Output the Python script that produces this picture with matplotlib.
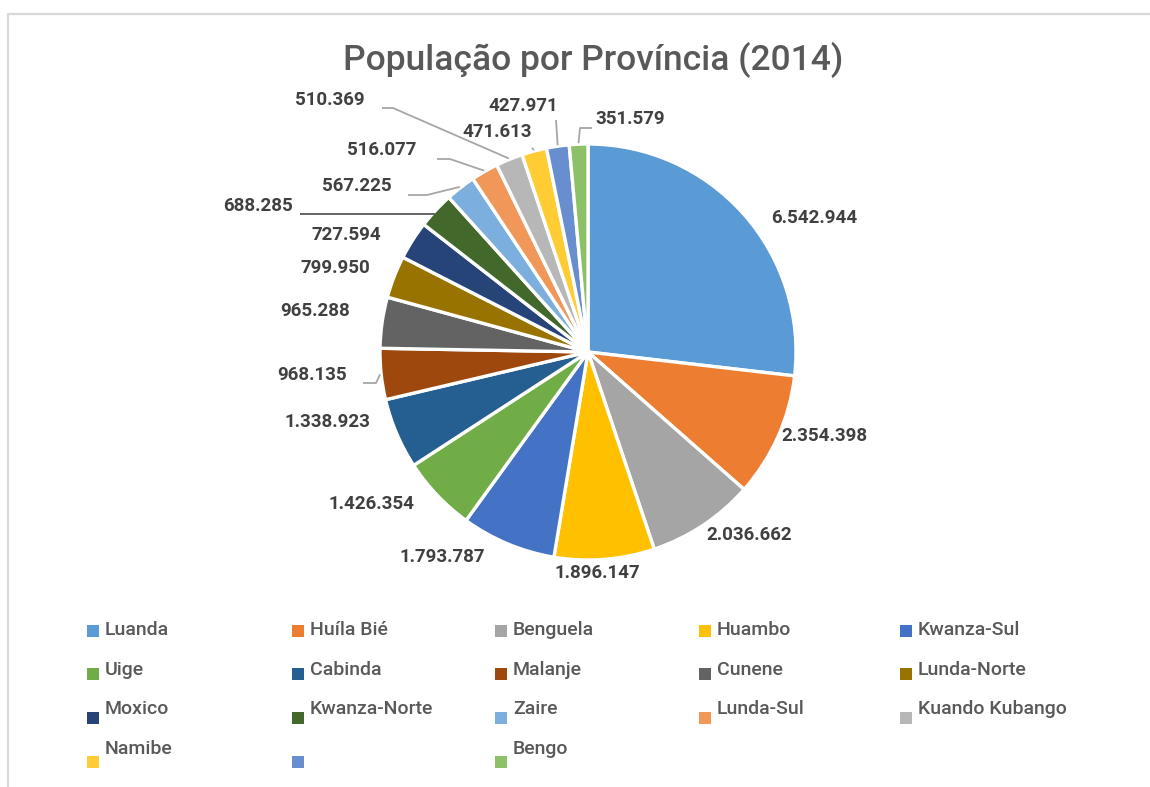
import matplotlib
matplotlib.use("Agg")
import matplotlib.pyplot as plt
from matplotlib.patches import Rectangle
import numpy as np

# ---------------- data ----------------
provinces = ["Luanda", "Huíla Bié", "Benguela", "Huambo", "Kwanza-Sul",
             "Uige", "Cabinda", "Malanje", "Cunene", "Lunda-Norte",
             "Moxico", "Kwanza-Norte", "Zaire", "Lunda-Sul", "Kuando Kubango",
             "Namibe", "", "Bengo"]
population = [6542944, 2354398, 2036662, 1896147, 1793787,
              1426354, 1338923, 968135, 965288, 799950,
              727594, 688285, 567225, 516077, 510369,
              471613, 427971, 351579]
value_labels = ["6.542.944", "2.354.398", "2.036.662", "1.896.147", "1.793.787",
                "1.426.354", "1.338.923", "968.135", "965.288", "799.950",
                "727.594", "688.285", "567.225", "516.077", "510.369",
                "471.613", "427.971", "351.579"]
title = "População por Província (2014)"

# ---------------- style / layout ----------------
colors = ["#5B9BD5", "#ED7D31", "#A5A5A5", "#FFC000", "#4472C4", "#70AD47",
          "#255E91", "#9E480E", "#636363", "#997300", "#264478", "#43682B",
          "#7CAFDD", "#F1975A", "#B7B7B7", "#FFCD33", "#698ED0", "#8CC168"]

W, H = 1150, 787
CX, CY, R = 588, 352, 208          # pie centre / radius in pixels (y from top)

# label centres in pixels (x, y from top)
label_pos = [(814, 218), (824, 436), (749, 535), (597, 573), (442, 557),
             (372, 504), (327, 422), (312, 375), (315, 311), (335, 268),
             (346, 235), (258, 206), (357, 186), (382, 150), (330, 100),
             (497, 132), (523, 106), (630, 119)]
# leader lines: index -> (start point, elbow point or None, horizontal end?) in pixels
leaders = {7: ((363, 383), (376, 383), False),
           11: ((300, 214), None, True),
           12: ((408, 195), (427, 195), False),
           13: ((437, 159), (450, 159), False),
           14: ((382, 108), (393, 108), False),
           15: ((532, 148), None, False),
           16: ((556, 120), None, False),
           17: ((592, 128), (580, 128), False)}

plt.rcParams['font.family'] = ['Roboto', 'DejaVu Sans']

fig = plt.figure(figsize=(W / 100, H / 100), dpi=100)
ax = fig.add_axes([0, 0, 1, 1])

def fy(y):
    return H - y

wedges, _ = ax.pie(population, colors=colors, startangle=90, counterclock=False,
                   center=(CX, fy(CY)), radius=R,
                   wedgeprops=dict(edgecolor="white", linewidth=2.4))

ax.set_xlim(0, W)
ax.set_ylim(0, H)
ax.set_aspect("equal")
ax.axis("off")

# value labels
for i, (txt, (lx, ly)) in enumerate(zip(value_labels, label_pos)):
    ax.text(lx, fy(ly), txt, ha="center", va="center", fontsize=13.5,
            fontweight="semibold", color="#404040")

# leader lines
for i, (start, elbow, horiz) in leaders.items():
    w = wedges[i]
    mid = np.deg2rad((w.theta1 + w.theta2) / 2)
    ex = CX + R * 1.005 * np.cos(mid)
    ey = fy(CY) + R * 1.005 * np.sin(mid)
    if horiz:
        ey = fy(start[1])
    xs = [start[0]]
    ys = [fy(start[1])]
    if elbow is not None:
        xs.append(elbow[0]); ys.append(fy(elbow[1]))
    xs.append(ex); ys.append(ey)
    col = "#595959" if i == 11 else "#A6A6A6"
    ax.plot(xs, ys, color=col, linewidth=1.3, solid_capstyle="butt")

# title
ax.text(593, fy(60), title, ha="center", va="center", fontsize=25.5,
        color="#595959", fontweight="medium")

# legend (manual, 5 columns)
col_x = [105, 310, 513, 717, 918]
row_text_y = [630, 670, 709, 749]
row_mark_y = [631, 674, 718, 762]
msz = 12
for i, name in enumerate(provinces):
    r, c = divmod(i, 5)
    tx = col_x[c]
    ax.add_patch(Rectangle((tx - 18, fy(row_mark_y[r]) - msz / 2), msz, msz,
                           facecolor=colors[i], edgecolor="none"))
    ax.text(tx, fy(row_text_y[r]), name, ha="left", va="center", fontsize=14,
            color="#595959", fontweight="medium")

# chart border (partly outside the image)
ax.plot([8, 8, W + 5], [-5, fy(14), fy(14)], color="#D9D9D9", linewidth=1.6,
        clip_on=False)

fig.savefig("out.png", dpi=100, facecolor="white")
